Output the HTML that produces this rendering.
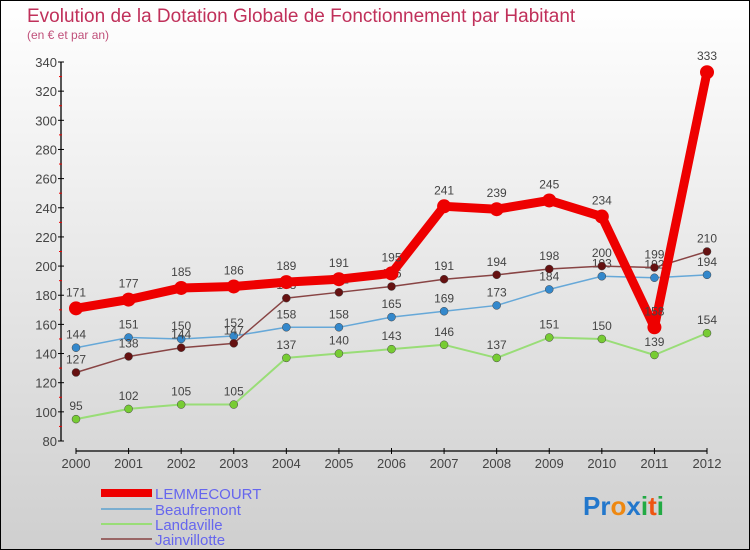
<!DOCTYPE html>
<html><head><meta charset="utf-8"><style>
body{margin:0}
#c{position:relative;width:748px;height:548px;border:1px solid #000;background:linear-gradient(#ffffff,#cfcfcf);overflow:hidden;font-family:"Liberation Sans",sans-serif}
</style></head><body>
<div id="c">
<svg id="s" width="748" height="548" style="position:absolute;left:0;top:0">
<text x="26" y="21" font-size="19" fill="#c0305a">Evolution de la Dotation Globale de Fonctionnement par Habitant</text>
<text x="26" y="38" font-size="12" fill="#c0507a">(en € et par an)</text>
<g id="axes"></g><g id="series"></g>
<g>
<rect x="100" y="488" width="51" height="8" fill="#ee0000"/>
<text x="154" y="498" font-size="15" fill="#6666ee">LEMMECOURT</text>
<line x1="100" y1="508" x2="151" y2="508" stroke="#7aaed0" stroke-width="2"/>
<text x="154" y="514" font-size="15" fill="#6666ee">Beaufremont</text>
<line x1="100" y1="523" x2="151" y2="523" stroke="#99dd77" stroke-width="2"/>
<text x="154" y="529" font-size="15" fill="#6666ee">Landaville</text>
<line x1="100" y1="538" x2="151" y2="538" stroke="#996666" stroke-width="2"/>
<text x="154" y="544" font-size="15" fill="#6666ee">Jainvillotte</text>
</g>
<text x="582" y="514" font-size="26" font-weight="bold"><tspan fill="#2277cc">Pr</tspan><tspan fill="#ee8811">o</tspan><tspan fill="#2277cc">x</tspan><tspan fill="#22aa44">i</tspan><tspan fill="#ee5511">t</tspan><tspan fill="#22aa44">i</tspan></text>
</svg>
</div>
<script>
const years=["2000","2001","2002","2003","2004","2005","2006","2007","2008","2009","2010","2011","2012"];
const yTicks=[80,100,120,140,160,180,200,220,240,260,280,300,320,340];
const lemmecourt=[171,177,185,186,189,191,195,241,239,245,234,158,333];
const beaufremont=[144,151,150,152,158,158,165,169,173,184,193,192,194];
const landaville=[95,102,105,105,137,140,143,146,137,151,150,139,154];
const jainvillotte=[127,138,144,147,178,182,186,191,194,198,200,199,210];
const NS="http://www.w3.org/2000/svg";
const X=i=>75+i*(631/12);
const Y=v=>440-(v-80)*(379/260);
function mk(tag,attrs,parent){const e=document.createElementNS(NS,tag);for(const k in attrs)e.setAttribute(k,attrs[k]);parent.appendChild(e);return e;}
const ax=document.getElementById('axes');
let l=mk('line',{x1:60,y1:61,x2:60,y2:440,stroke:'#000','stroke-width':1.3},ax);


yTicks.forEach((v,i)=>{
  mk('line',{x1:57,y1:Y(v),x2:63,y2:Y(v),stroke:'#000'},ax);
  if(i<yTicks.length-1) mk('line',{x1:58,y1:Y(v+10),x2:61,y2:Y(v+10),stroke:'#e00'},ax);
  const t=mk('text',{x:56,y:Y(v)+5,'font-size':13,fill:'#444','text-anchor':'end'},ax);
  t.textContent=v;
  
  
});
l=mk('line',{x1:75,y1:450,x2:706,y2:450,stroke:'#000','stroke-width':1.3},ax);


years.forEach((y,i)=>{
  mk('line',{x1:X(i),y1:447,x2:X(i),y2:453,stroke:'#000'},ax);
  const t=mk('text',{x:X(i),y:467,'font-size':13,fill:'#444','text-anchor':'middle'},ax);
  t.textContent=y;
  
  
});
const sg=document.getElementById('series');
function series(name,data,color,w,r,fill){
  const g=mk('g',{},sg);
  
  
  const p=mk('polyline',{points:data.map((v,i)=>X(i)+','+Y(v)).join(' '),fill:'none',stroke:color,'stroke-width':w,'stroke-linejoin':'round'},g);
  
  
  data.forEach((v,i)=>{
    const c=mk('circle',{cx:X(i),cy:Y(v),r:r,fill:fill,stroke:w>3?'none':'#444','stroke-width':0.5},g);
    
    
    const t=mk('text',{x:X(i),y:Y(v)-(r+5),'font-size':12,fill:'#444','text-anchor':'middle'},g);
    t.textContent=v;
    
    
  });
}
series('landaville',landaville,'#99dd77',2,4,'#77cc33');
series('beaufremont',beaufremont,'#66a8d8',1.5,4,'#3388cc');
series('jainvillotte',jainvillotte,'#884444',1.5,4,'#661111');
series('lemmecourt',lemmecourt,'#ee0000',9,7,'#ee0000');
</script>
</body></html>
